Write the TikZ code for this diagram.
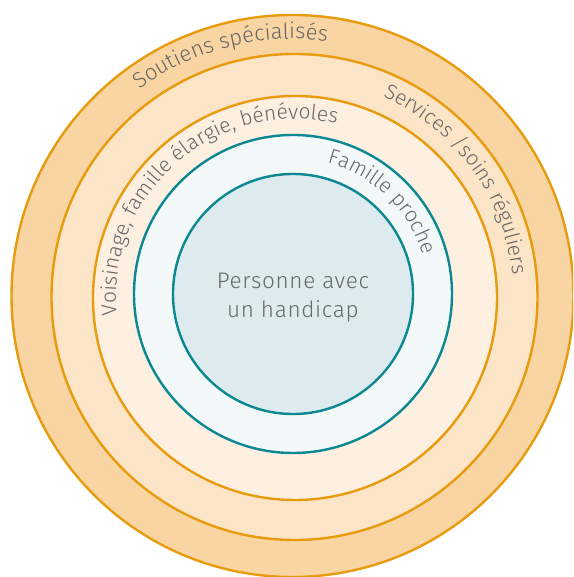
\documentclass[tikz,border=0pt]{standalone}
\usepackage{fontspec}
\setmainfont{Fira Sans Light}
\usetikzlibrary{decorations.text}
\definecolor{ringA}{HTML}{F9D5A4}
\definecolor{ringB}{HTML}{FCE4C7}
\definecolor{ringC}{HTML}{FDF0E1}
\definecolor{ringD}{HTML}{F3F8F9}
\definecolor{coreF}{HTML}{DDEBEF}
\definecolor{orangeL}{HTML}{E89B0C}
\definecolor{tealL}{HTML}{0B8892}
\definecolor{txt}{HTML}{676767}
\newcommand{\arctxt}{\fontsize{22}{26}\selectfont\color{txt}}
\newcommand{\arctxtb}{\fontsize{21}{25}\selectfont\color{txt}}
\begin{document}
\begin{tikzpicture}[x=1pt,y=1pt,
  ring/.style={circle, inner sep=0pt, outer sep=0pt, line width=2.4pt},
  oring/.style={ring, draw=orangeL},
  tring/.style={ring, draw=tealL},
  arclabel/.style={decorate, decoration={text along path, text align=center, text={|\arctxt|#1}}},
  arclabelb/.style={decorate, decoration={text along path, text align=center, text={|\arctxtb|#1}}}]
\useasboundingbox (0,0) rectangle (573,577);
\begin{scope}
\clip (0,0) rectangle (573,577);
\node[oring, fill=ringA, minimum size=562pt] (outer) at (292.5,281) {};
\node[oring, fill=ringB, minimum size=486pt] (services) at (294.5,280) {};
\node[oring, fill=ringC, minimum size=404pt] (voisinage) at (295,279) {};
\node[tring, fill=ringD, minimum size=318pt] (famille) at (293,283) {};
\node[tring, fill=coreF, minimum size=240pt] (core) at (293,283) {};
\end{scope}
\node[align=center, text=txt, font=\fontsize{22.5}{29}\selectfont\addfontfeatures{LetterSpace=3}] (pers) at (293,279) {Personne avec\\un handicap};
\path[arclabel={Soutiens spécialisés}] (outer.center) ++(160:257) arc[start angle=160, end angle=48.8, radius=257];
\path[arclabelb={Services /soins réguliers}] (services.center) ++(99:219) arc[start angle=99, end angle=-27, radius=219];
\path[arclabelb={Voisinage, famille élargie, bénévoles}] (voisinage.center) ++(230:179) arc[start angle=230, end angle=32, radius=179];
\path[arclabelb={Famille proche}] (famille.center) ++(108:135.5) arc[start angle=108, end angle=-16, radius=135.5];
\end{tikzpicture}
\end{document}
